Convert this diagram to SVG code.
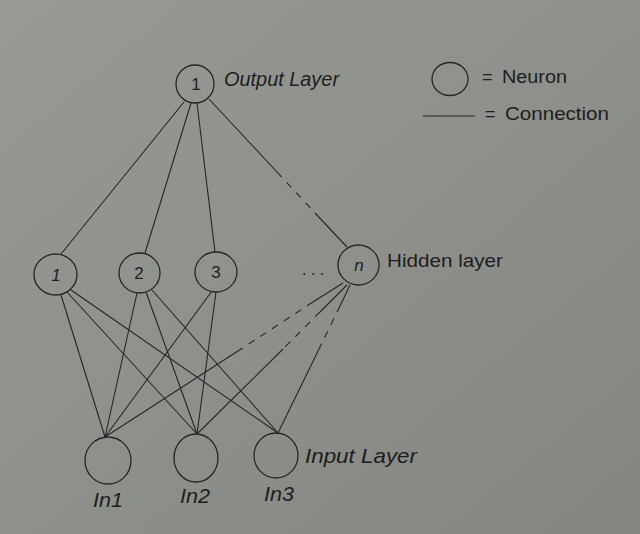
<svg xmlns="http://www.w3.org/2000/svg" width="640" height="534" viewBox="0 0 640 534">
<defs>
<linearGradient id="bg" x1="0" y1="0" x2="1" y2="1">
<stop offset="0" stop-color="#979994"/>
<stop offset="0.5" stop-color="#8e908b"/>
<stop offset="1" stop-color="#83857f"/>
</linearGradient>
<style>
.n{fill:none;stroke:#262626;stroke-width:1.3}
.c line{stroke:#262626;stroke-width:1.1}
.c .d{stroke-dasharray:7 7}
text{font-family:"Liberation Sans",Arial,sans-serif;fill:#1e1e1e}
.i{font-style:italic}
.num{font-size:17px;text-anchor:middle}
</style>
</defs>
<rect width="640" height="534" fill="url(#bg)"/>

<g id="connectors" class="c">
<line x1="184" y1="102" x2="61" y2="254"/>
<line x1="191" y1="103" x2="145" y2="253"/>
<line x1="197" y1="103" x2="215" y2="252"/>
<line x1="209" y1="99" x2="277" y2="172"/>
<line class="d" x1="277" y1="172" x2="315" y2="213"/>
<line x1="315" y1="213" x2="347" y2="247"/>

<line x1="61" y1="295" x2="105" y2="437"/>
<line x1="67" y1="292" x2="197" y2="434"/>
<line x1="71" y1="290" x2="278" y2="433"/>
<line x1="137" y1="293" x2="105" y2="437"/>
<line x1="146" y1="292" x2="197" y2="434"/>
<line x1="152" y1="290" x2="278" y2="433"/>
<line x1="212" y1="291" x2="105" y2="437"/>
<line x1="216" y1="292" x2="197" y2="434"/>

<line x1="343" y1="283" x2="313" y2="302"/>
<line class="d" x1="313" y1="302" x2="238" y2="351"/>
<line x1="238" y1="351" x2="105" y2="437"/>
<line x1="347" y1="285" x2="320" y2="312"/>
<line class="d" x1="320" y1="312" x2="283" y2="349"/>
<line x1="283" y1="349" x2="197" y2="434"/>
<line x1="350" y1="285" x2="340" y2="306"/>
<line class="d" x1="340" y1="306" x2="320" y2="347"/>
<line x1="320" y1="347" x2="278" y2="433"/>
</g>

<g id="output1">
<ellipse class="n" cx="195" cy="84" rx="19" ry="19"/>
<text class="num" x="196" y="90">1</text>
</g>
<text id="outputLabel" class="i" x="224" y="86" font-size="20" textLength="115" lengthAdjust="spacingAndGlyphs">Output Layer</text>

<g id="legendNeuron">
<ellipse class="n" cx="450" cy="79" rx="18" ry="16.5"/>
<text x="482" y="83" font-size="18">=</text>
<text x="502" y="83" font-size="18" textLength="65" lengthAdjust="spacingAndGlyphs">Neuron</text>
</g>
<g id="legendConnection">
<line x1="423" y1="116" x2="475" y2="116" stroke="#262626" stroke-width="1.1"/>
<text x="485" y="120" font-size="18">=</text>
<text x="505" y="120" font-size="18" textLength="104" lengthAdjust="spacingAndGlyphs">Connection</text>
</g>

<g id="hidden1">
<ellipse class="n" cx="55.5" cy="274.5" rx="21.5" ry="20.5"/>
<text class="num i" x="56" y="281">1</text>
</g>
<g id="hidden2">
<ellipse class="n" cx="139.5" cy="273" rx="20.5" ry="20"/>
<text class="num" x="139" y="279">2</text>
</g>
<g id="hidden3">
<ellipse class="n" cx="216" cy="272" rx="21" ry="20"/>
<text class="num" x="216" y="278">3</text>
</g>
<text id="dots" x="302" y="275" font-size="16">. . .</text>
<g id="hiddenN">
<ellipse class="n" cx="358.5" cy="265" rx="20.5" ry="20"/>
<text class="num i" x="359" y="271" font-size="19">n</text>
</g>
<text id="hiddenLabel" x="387" y="267" font-size="18" textLength="116" lengthAdjust="spacingAndGlyphs">Hidden layer</text>

<g id="in1">
<ellipse class="n" cx="108" cy="460.5" rx="23" ry="23.5"/>
<text class="i" x="93" y="507" font-size="21" textLength="30" lengthAdjust="spacingAndGlyphs">In1</text>
</g>
<g id="in2">
<ellipse class="n" cx="196" cy="458" rx="22" ry="24"/>
<text class="i" x="180" y="503" font-size="21" textLength="30" lengthAdjust="spacingAndGlyphs">In2</text>
</g>
<g id="in3">
<ellipse class="n" cx="276" cy="455.5" rx="22" ry="22.5"/>
<text class="i" x="264" y="501" font-size="21" textLength="30" lengthAdjust="spacingAndGlyphs">In3</text>
</g>
<text id="inputLabel" class="i" x="305" y="463" font-size="21" textLength="112" lengthAdjust="spacingAndGlyphs">Input Layer</text>
</svg>
